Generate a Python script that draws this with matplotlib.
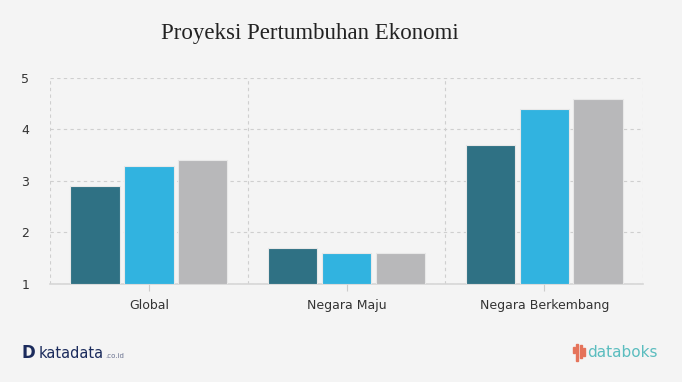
import numpy as np
import matplotlib.pyplot as plt
from matplotlib.patches import Rectangle

# data
categories = ["Global", "Negara Maju", "Negara Berkembang"]
series_1 = [2.9, 1.7, 3.7]
series_2 = [3.3, 1.6, 4.4]
series_3 = [3.4, 1.6, 4.6]
colors = ["#2f7184", "#31b3e0", "#b8b8ba"]

bg = "#f4f4f4"
fig = plt.figure(figsize=(6.82, 3.82), dpi=100, facecolor=bg)
ax = fig.add_axes([0.0733, 0.2565, 0.8697, 0.5395], facecolor=bg)

x = np.arange(len(categories))
width = 0.25
gap = 0.022
for i, (vals, c) in enumerate(zip([series_1, series_2, series_3], colors)):
    offs = (i - 1) * (width + gap)
    ax.bar(x + offs, np.array(vals) - 1, bottom=1, width=width, color=c,
           edgecolor="#e8e8e8", linewidth=0.8, zorder=3)

ax.set_xlim(-0.5, 2.5)
ax.set_ylim(1, 5)
ax.set_yticks([1, 2, 3, 4, 5])
ax.set_xticks(x)
ax.set_xticklabels(categories)
ax.set_xticks([-0.5, 0.5, 1.5, 2.5], minor=True)

ax.grid(axis="y", which="major", color="#cfcfcf", linestyle=(0, (3, 3)), linewidth=0.8, zorder=0)
ax.grid(axis="x", which="minor", color="#cfcfcf", linestyle=(0, (3, 3)), linewidth=0.8, zorder=0)
ax.grid(axis="x", which="major", visible=False)

for s in ["top", "right", "left"]:
    ax.spines[s].set_visible(False)
ax.spines["bottom"].set_color("#d6d6d6")
ax.spines["bottom"].set_linewidth(1.2)

ax.tick_params(axis="y", length=0, labelsize=9, labelcolor="#333333", pad=15)
ax.tick_params(axis="x", which="major", length=5, color="#cccccc", labelsize=9,
               labelcolor="#333333", pad=6)
ax.tick_params(axis="x", which="minor", length=0)

fig.text(0.455, 0.912, "Proyeksi Pertumbuhan Ekonomi", ha="center", va="center",
         fontsize=16.5, family="Liberation Serif", color="#222222")

# footer
fig.text(0.032, 0.075, "D", ha="left", va="center", fontsize=12, fontweight="bold",
         color="#1b2b5c", family="DejaVu Sans")
fig.text(0.057, 0.075, "katadata", ha="left", va="center", fontsize=10.5,
         color="#1b2b5c", family="DejaVu Sans Condensed")
fig.text(0.155, 0.068, ".co.id", ha="left", va="center", fontsize=5,
         color="#6a7290", family="DejaVu Sans")

icon_x = 0.840
for dx, h, yb in [(0.0, 0.016, 0.075), (0.005, 0.045, 0.055), (0.010, 0.035, 0.062), (0.015, 0.022, 0.068)]:
    fig.patches.append(Rectangle((icon_x + dx, yb), 0.0028, h, transform=fig.transFigure,
                                 color="#e5735a", zorder=5))
fig.text(0.861, 0.077, "databoks", ha="left", va="center", fontsize=11,
         color="#5bbdbf", family="DejaVu Sans Condensed")

fig.savefig("out.png", dpi=100, facecolor=bg)
